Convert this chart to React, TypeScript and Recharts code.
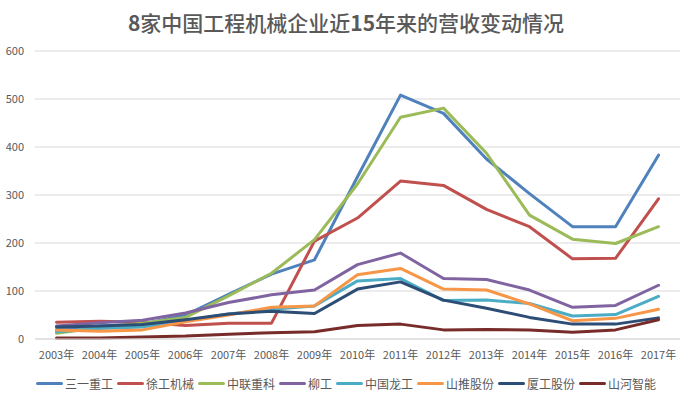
import React from "react";
import { LineChart, Line, XAxis, YAxis, CartesianGrid, Legend } from "recharts";

const years = ["2003年","2004年","2005年","2006年","2007年","2008年","2009年","2010年","2011年","2012年","2013年","2014年","2015年","2016年","2017年"];
const sany = [20, 27, 31, 50, 93, 135, 165, 338, 508, 470, 375, 303, 234, 234, 383];
const xugong = [35, 37, 35, 28, 33, 33, 204, 252, 329, 320, 270, 234, 167, 168, 292];
const zoomlion = [12, 24, 33, 45, 90, 137, 207, 323, 462, 481, 387, 258, 208, 199, 234];
const liugong = [27, 34, 39, 54, 76, 92, 102, 155, 179, 126, 124, 102, 66, 70, 112];
const lonking = [15, 22, 25, 38, 52, 62, 69, 121, 126, 80, 81, 74, 48, 51, 89];
const shantui = [19, 16, 19, 36, 50, 66, 69, 134, 147, 104, 102, 73, 38, 43, 62];
const xiagong = [25, 27, 30, 40, 52, 58, 53, 104, 119, 81, 64, 45, 31, 31, 44];
const sunward = [2, 2, 4, 6, 10, 13, 15, 28, 31, 19, 20, 19, 14, 19, 40];
const yTicks = [0, 100, 200, 300, 400, 500, 600];

const series = [
  { key: "三一重工", values: sany, color: "#4F81BD" },
  { key: "徐工机械", values: xugong, color: "#C0504D" },
  { key: "中联重科", values: zoomlion, color: "#9BBB59" },
  { key: "柳工", values: liugong, color: "#8064A2" },
  { key: "中国龙工", values: lonking, color: "#4BACC6" },
  { key: "山推股份", values: shantui, color: "#F79646" },
  { key: "厦工股份", values: xiagong, color: "#2C4D75" },
  { key: "山河智能", values: sunward, color: "#772C2A" },
];

const data = years.map((y, i) => {
  const row: Record<string, string | number> = { year: y };
  series.forEach((s) => (row[s.key] = s.values[i]));
  return row;
});

const FONT = '"Noto Sans CJK SC", "Noto Sans", sans-serif';

const LegendContent = () => (
  <div style={{ display: "flex", justifyContent: "center", alignItems: "center", height: 20, fontFamily: FONT, fontSize: 12, color: "#595959" }}>
    {series.map((s, i) => (
      <div key={s.key} style={{ display: "flex", alignItems: "center", marginRight: i === series.length - 1 ? 0 : 4 }}>
        <div style={{ width: 27, height: 3, borderRadius: 1.5, background: s.color, marginRight: 2 }} />
        <span>{s.key}</span>
      </div>
    ))}
  </div>
);

export default function App() {
  return (
    <div style={{ position: "absolute", left: 0, top: 0, width: 692, height: 399, background: "#fff" }}>
      <div style={{ position: "absolute", left: 0, top: 8, width: 692, textAlign: "center", fontFamily: FONT, fontSize: 21, fontWeight: 500, color: "#595959", lineHeight: "28px" }}>
        <b>8</b>家中国工程机械企业近<b>15</b>年来的营收变动情况
      </div>
      <LineChart width={692} height={399} data={data} margin={{ top: 51, right: 12, bottom: 10, left: 0 }}>
        <CartesianGrid vertical={false} stroke="#D9D9D9" />
        <XAxis dataKey="year" interval={0} padding={{ left: 21.5, right: 21.5 }} tickLine={false} tickMargin={6} axisLine={{ stroke: "#D9D9D9" }} tick={{ fontSize: 11, fill: "#595959", fontFamily: FONT }} />
        <YAxis domain={[0, 600]} ticks={yTicks} width={35} tickLine={false} axisLine={false} tickMargin={5} tick={{ fontSize: 11, fill: "#595959", fontFamily: FONT }} />
        <Legend verticalAlign="bottom" content={<LegendContent />} wrapperStyle={{ top: 373, bottom: "auto", left: 0, width: 692, height: 20 }} />
        {series.map((s) => (
          <Line key={s.key} dataKey={s.key} stroke={s.color} strokeWidth={3} dot={false} isAnimationActive={false} strokeLinecap="round" strokeLinejoin="round" />
        ))}
      </LineChart>
    </div>
  );
}
